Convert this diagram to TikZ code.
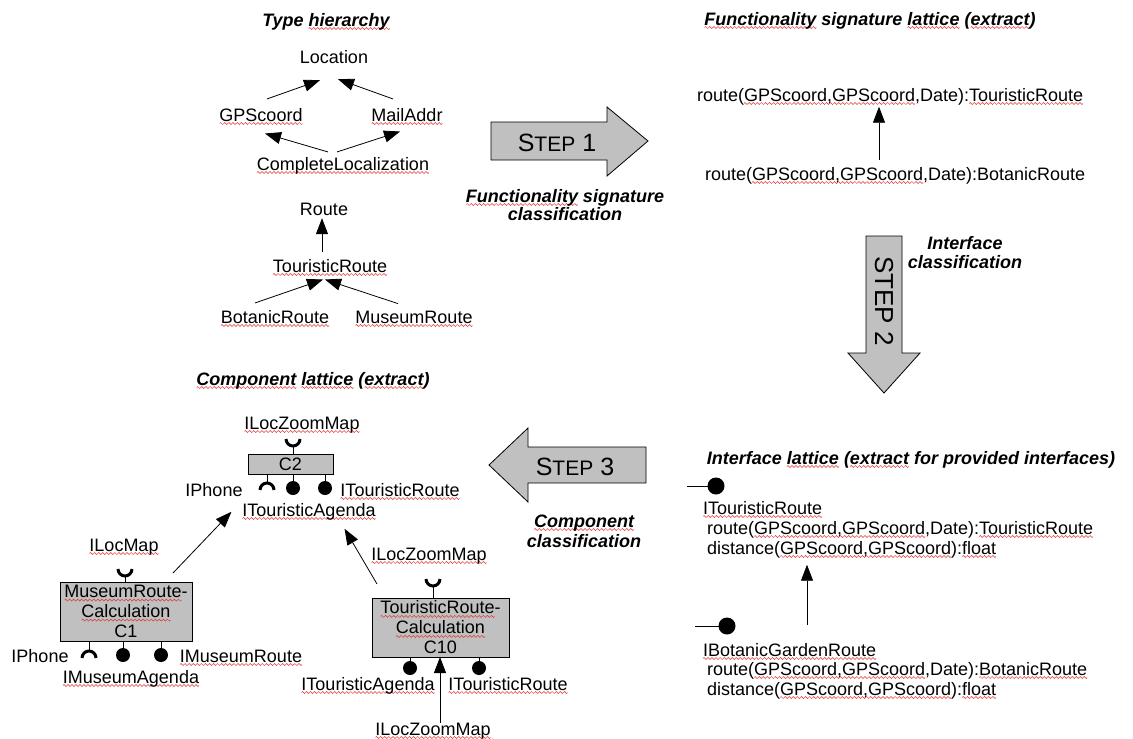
\documentclass[tikz,border=0pt]{standalone}
\usepackage{fontspec}
\setmainfont{Liberation Sans}
\usetikzlibrary{arrows.meta,calc}
\definecolor{boxgray}{RGB}{192,192,192}
\definecolor{sqred}{RGB}{225,50,50}
\newcommand\myfs{\fontsize{18}{20}\selectfont}
\newcommand\stepword[1]{{\fontsize{25}{28}\selectfont S\fontsize{21}{24}\selectfont TEP\fontsize{25}{28}\selectfont\ #1}}
\newsavebox\wavebox
\newsavebox\sqbox
\newcommand\sq[1]{\sbox\sqbox{#1}\rlap{\lower2.5pt\hbox to\wd\sqbox{\xleaders\copy\wavebox\hfil}}\usebox\sqbox}
\begin{document}
\sbox\wavebox{\begin{pgfpicture}%
\pgfpathmoveto{\pgfpointorigin}\pgfpathlineto{\pgfpoint{4pt}{0pt}}\pgfusepath{use as bounding box}%
\begin{pgfinterruptboundingbox}%
\pgfsetlinewidth{0.5pt}\pgfsetstrokecolor{sqred}%
\pgfpathmoveto{\pgfpointorigin}%
\pgfpathsine{\pgfpoint{1pt}{1pt}}%
\pgfpathcosine{\pgfpoint{1pt}{-1pt}}%
\pgfpathsine{\pgfpoint{1pt}{-1pt}}%
\pgfpathcosine{\pgfpoint{1pt}{1pt}}%
\pgfusepath{stroke}%
\end{pgfinterruptboundingbox}%
\end{pgfpicture}}%
\begin{tikzpicture}[x=1pt,y=-1pt,
 every node/.style={inner sep=0pt,outer sep=0pt,font=\myfs},
 lbl/.style={anchor=base},
 lw/.style={anchor=base west},
 ttl/.style={anchor=base,font=\myfs\bfseries\itshape},
 arr/.style={-{Triangle[length=16pt,width=12pt]},line width=0.8pt},
 bigarrow/.style={draw=black,fill=boxgray,line width=0.8pt},
 comp/.style={draw,fill=boxgray,line width=0.8pt,align=center},
 ball/.style={circle,fill=black,minimum size=14pt},
 bigball/.style={circle,fill=black,minimum size=17pt},
 stem/.style={line width=0.8pt},
 sock/.style={line width=3pt},
]
\useasboundingbox (0,0) rectangle (1133,739);
\fill[white] (0,0) rectangle (1133,739);

% ---------- Type hierarchy ----------
\node[ttl] (tht) at (326,26) {Type \sq{hierarchy}};
\node[lbl] (loc) at (334,63) {Location};
\node[lbl] (gps) at (261,121) {\sq{GPScoord}};
\node[lbl] (mail) at (407,121) {\sq{MailAddr}};
\node[lbl] (cl) at (343,170) {\sq{CompleteLocalization}};
\draw[arr] ($(gps.north)+(6,-9)$) -- ($(loc.south)+(-14,17)$);
\draw[arr] ($(mail.north)+(-14,-9)$) -- ($(loc.south)+(4,16)$);
\draw[arr] ($(cl.north)+(-15,-5)$) -- ($(gps.south)+(4,10)$);
\draw[arr] ($(cl.north)+(-6,-5)$) -- ($(mail.south)+(-7,8)$);

\node[lbl] (route) at (324,215) {Route};
\node[lbl] (tr) at (330,272) {\sq{TouristicRoute}};
\node[lbl] (br) at (275,323) {\sq{BotanicRoute}};
\node[lbl] (mr) at (414,323) {\sq{MuseumRoute}};
\draw[arr] ($(tr.north)+(-8,-7)$) -- ($(route.south)+(-2,3)$);
\draw[arr] ($(br.north)+(-20,-7)$) -- ($(tr.south)+(-7,5)$);
\draw[arr] ($(mr.north)+(-16,-7)$) -- ($(tr.south)+(-5,5)$);

% ---------- Step 1 ----------
\draw[bigarrow] (491,122) -- (607,122) -- (607,107) -- (648,141) -- (607,176) -- (607,160) -- (491,160) -- cycle;
\node[lbl] (s1t) at (557,151) {\stepword{1}};
\node[ttl] (fsc1) at (565,202) {\sq{Functionality} signature};
\node[ttl] (fsc2) at (565,220) {classification};

% ---------- Functionality signature lattice ----------
\node[ttl] (fslt) at (870,25) {\sq{Functionality} signature \sq{lattice} (\sq{extract})};
\node[lw] (sig1) at (697,101) {route(\sq{GPScoord,GPScoord},Date):\sq{TouristicRoute}};
\node[lw] (sig2) at (705,180) {route(\sq{GPScoord,GPScoord},Date):BotanicRoute};
\draw[arr] ($(sig2.north west)+(174,-7)$) -- ($(sig1.south west)+(182,2)$);

% ---------- Step 2 ----------
\draw[bigarrow] (866,236) -- (902,236) -- (902,353) -- (920,353) -- (884,393) -- (848,353) -- (866,353) -- cycle;
\node[rotate=-90,font=\fontsize{26}{28}\selectfont] (s2t) at (884,301) {STEP 2};
\node[ttl] (ic1) at (965,249) {Interface};
\node[ttl] (ic2) at (965,268) {classification};

% ---------- Interface lattice ----------
\node[ttl] (ilt) at (911,464) {Interface \sq{lattice} (\sq{extract} for provided interfaces)};
\node[bigball] (ib1) at (716,486) {};
\coordinate (ib1l) at (687,486);
\draw[stem] (ib1l) -- (ib1);
\node[lw] (itr) at (703,514) {\sq{ITouristicRoute}};
\node[lw] (itr1) at (707,534) {route(\sq{GPScoord,GPScoord},Date):\sq{TouristicRoute}};
\node[lw] (itr2) at (707,554) {distance(\sq{GPScoord,GPScoord}):\sq{float}};
\node[bigball] (ib2) at (727,626) {};
\coordinate (ib2l) at (695,626);
\draw[stem] (ib2l) -- (ib2);
\node[lw] (ibg) at (703,656) {\sq{IBotanicGardenRoute}};
\node[lw] (ibg1) at (707,675) {route(\sq{GPScoord,GPScoord},Date):\sq{BotanicRoute}};
\node[lw] (ibg2) at (707,695) {distance(\sq{GPScoord,GPScoord}):\sq{float}};
\draw[arr] ($(ibg.north west)+(104,-18)$) -- ($(itr2.south west)+(100,7)$);

% ---------- Step 3 ----------
\draw[bigarrow] (646,447) -- (528,447) -- (528,428) -- (489,465) -- (528,502) -- (528,483) -- (646,483) -- cycle;
\node[lbl] (s3t) at (575,475) {\stepword{3}};
\node[ttl] (cc1) at (584,527) {\sq{Component}};
\node[ttl] (cc2) at (584,547) {classification};

% ---------- Component lattice ----------
\node[ttl] (clt) at (313,385) {\sq{Component} \sq{lattice} (\sq{extract})};

% C2
\node[lbl] (lzm1) at (302,429) {\sq{ILocZoomMap}};
\node[comp,minimum width=85pt,minimum height=20pt] (c2) at (290.5,464) {C2};
\draw[sock] (286,439) arc[start angle=180,end angle=360,radius=7pt];
\coordinate (c2in) at (293,446);
\draw[stem] (c2in) -- (c2in |- c2.north);
\coordinate (c2r) at (267,483);
\draw[stem] (c2r) -- (c2r |- c2.south);
\draw[sock] (274,490) arc[start angle=0,end angle=180,radius=7pt];
\node[ball] (c2p1) at (293,488) {};
\node[ball] (c2p2) at (325,488) {};
\draw[stem] (c2p1) -- (c2p1 |- c2.south);
\draw[stem] (c2p2) -- (c2p2 |- c2.south);
\node[lbl] (c2ph) at (214,496) {IPhone};
\node[lbl] (c2tr) at (400,496) {\sq{ITouristicRoute}};
\node[lbl] (ita) at (309,516) {\sq{ITouristicAgenda}};

% C1
\node[lbl] (lm) at (124,551) {\sq{ILocMap}};
\node[comp,minimum width=132pt,minimum height=59pt] (c1) at (126,611.5) {\sq{MuseumRoute}-\\\sq{Calculation}\\C1};
\draw[sock] (118,569) arc[start angle=180,end angle=360,radius=7pt];
\coordinate (c1in) at (125,576);
\draw[stem] (c1in) -- (c1in |- c1.north);
\coordinate (c1r) at (89,651);
\draw[stem] (c1r) -- (c1r |- c1.south);
\draw[sock] (96,658) arc[start angle=0,end angle=180,radius=7pt];
\node[ball] (c1p1) at (123,655) {};
\node[ball] (c1p2) at (161,655) {};
\draw[stem] (c1p1) -- (c1p1 |- c1.south);
\draw[stem] (c1p2) -- (c1p2 |- c1.south);
\node[lbl] (c1ph) at (40,662) {IPhone};
\node[lbl] (c1mr) at (241,662) {\sq{IMuseumRoute}};
\node[lbl] (c1ma) at (131,683) {\sq{IMuseumAgenda}};

% C10
\node[lbl] (lzm2) at (429,560) {\sq{ILocZoomMap}};
\node[comp,minimum width=137pt,minimum height=59pt] (c10) at (440.5,627.5) {\sq{TouristicRoute}-\\\sq{Calculation}\\C10};
\draw[sock] (426,579) arc[start angle=180,end angle=360,radius=7pt];
\coordinate (c10in) at (433,586);
\draw[stem] (c10in) -- (c10in |- c10.north);
\node[ball] (c10p1) at (410,668) {};
\node[ball] (c10p2) at (479,668) {};
\draw[stem] (c10p1) -- (c10p1 |- c10.south);
\draw[stem] (c10p2) -- (c10p2 |- c10.south);
\node[lbl] (c10ta) at (368,690) {\sq{ITouristicAgenda}};
\node[lbl] (c10tr) at (508,690) {\sq{ITouristicRoute}};
\node[lbl] (lzm3) at (433,735) {\sq{ILocZoomMap}};
\draw[arr] ($(lzm3.north)+(7,0)$) -- ($(c10.south)+(-0.5,0)$);

% lattice arrows
\draw[arr] ($(c1.north)+(47,-9)$) -- ($(ita.south west)+(-11,-8)$);
\draw[arr] ($(c10.north)+(-63.5,-14)$) -- ($(ita.south east)+(-31,9)$);
\end{tikzpicture}
\end{document}
